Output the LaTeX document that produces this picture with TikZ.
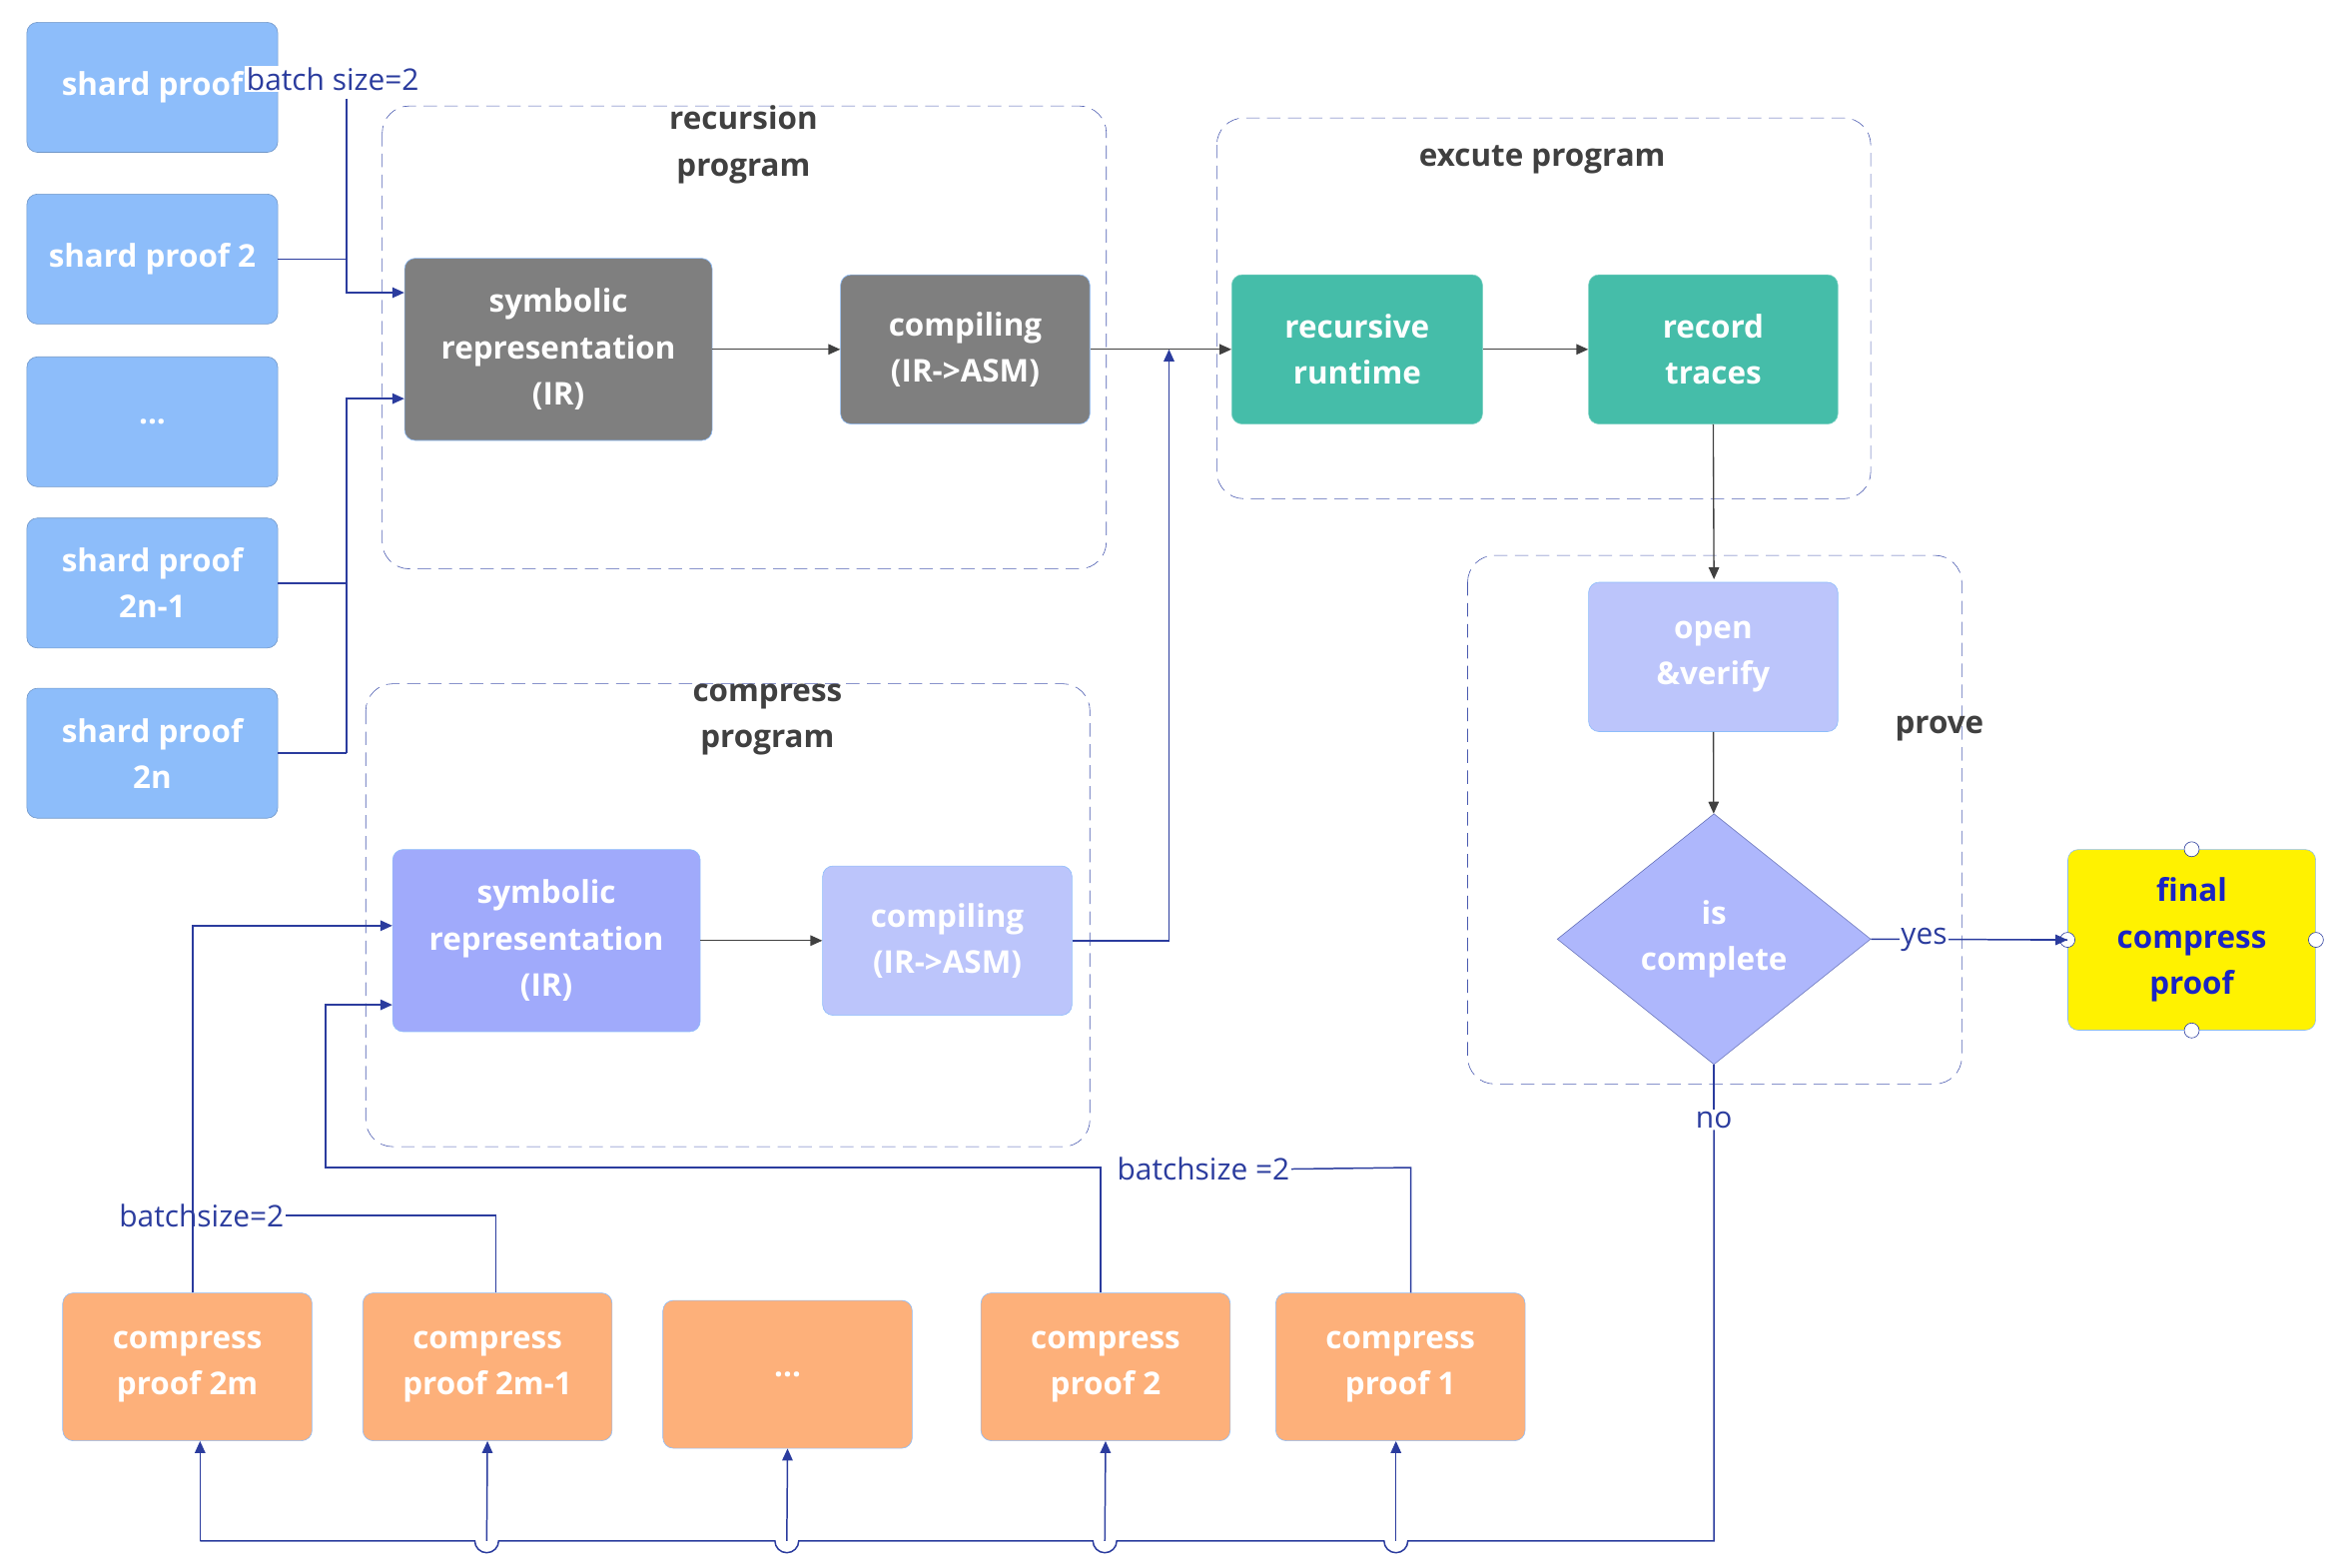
\documentclass[tikz,border=0pt]{standalone}
\usepackage{fontspec}
\setmainfont{Open Sans}
\usetikzlibrary{shapes.geometric,arrows.meta}
\definecolor{shardc}{HTML}{8DBDFA}
\definecolor{grayc}{HTML}{7F7F7F}
\definecolor{tealc}{HTML}{45BDA9}
\definecolor{lavc}{HTML}{BCC5FB}
\definecolor{purpc}{HTML}{A0AAFB}
\definecolor{orangec}{HTML}{FDB07A}
\definecolor{linec}{HTML}{2B3C9E}
\definecolor{dashc}{HTML}{4A5AB0}
\definecolor{textc}{HTML}{404040}
\tikzset{
  box/.style={rounded corners=7, draw=#1!80!black, fill=#1, text=white, align=center,
    font=\fontsize{21}{31}\selectfont\bfseries, inner sep=0pt},
  grp/.style={draw=dashc, dashed, dash pattern=on 9pt off 5pt, rounded corners=18},
  grplbl/.style={text=textc, align=center, font=\fontsize{21}{31}\selectfont\bfseries},
  lbl/.style={text=linec, font=\fontsize{20}{24}\selectfont, inner sep=1pt},
  flow/.style={draw=textc, line width=0.9pt, -{Triangle[length=8pt,width=7pt]}},
  lane/.style={draw=linec, line width=1pt, -{Triangle[length=8pt,width=7pt]}},
  plain/.style={draw=linec, line width=1pt},
}
\begin{document}
\begin{tikzpicture}[x=1pt,y=-1pt]
\useasboundingbox (0,0) rectangle (1568,1050);
% groups
\draw[grp] (256,71) rectangle (741,381);
\node[grplbl] at (498,97) {recursion\\program};
\draw[grp] (815,79) rectangle (1253,334);
\node[grplbl] at (1033,107) {excute program};
\draw[grp] (983,372) rectangle (1314,726);
\node[grplbl] at (1299,488) {prove};
\draw[grp] (245,458) rectangle (730,768);
\node[grplbl] at (514,482) {compress\\program};
% shard proofs
\node[box=shardc, minimum width=168, minimum height=87] (s1) at (102,58.5) {shard proof};
\node[box=shardc, minimum width=168, minimum height=87] (s2) at (102,173.5) {shard proof 2};
\node[box=shardc, minimum width=168, minimum height=87] (s3) at (102,282.5) {...};
\node[box=shardc, minimum width=168, minimum height=87] (s4) at (102,390.5) {shard proof\\2n-1};
\node[box=shardc, minimum width=168, minimum height=87] (s5) at (102,504.5) {shard proof\\2n};
% recursion program
\node[box=grayc, draw=shardc, minimum width=206, minimum height=122] (sym) at (374,234) {symbolic\\representation\\(IR)};
\node[box=grayc, draw=shardc, minimum width=167, minimum height=100] (comp) at (646.5,234) {compiling\\(IR->ASM)};
% excute program
\node[box=tealc, draw=tealc!70!white, minimum width=168, minimum height=100] (run) at (909,234) {recursive\\runtime};
\node[box=tealc, draw=tealc!70!white, minimum width=167, minimum height=100] (rec) at (1147.5,234) {record\\traces};
% prove
\node[box=lavc, draw=shardc, minimum width=167, minimum height=100] (open) at (1147.5,440) {open\\\&verify};
\node[diamond, draw=linec!70!white, fill=purpc!85!white, text=white, align=center,
  font=\fontsize{21}{31}\selectfont\bfseries, minimum width=210, minimum height=168,
  inner sep=0pt] (isc) at (1148,629) {is\\complete};
\node[box=yellow, draw=shardc, text=linec!60!blue, minimum width=166, minimum height=121] (fin) at (1468,629.5) {final\\compress\\proof};
\foreach \p in {fin.north, fin.south, fin.east, fin.west}
  \draw[linec, fill=white] (\p) circle (5);
% compress program
\node[box=purpc, draw=shardc, minimum width=206, minimum height=122] (sym2) at (366,630) {symbolic\\representation\\(IR)};
\node[box=lavc, draw=shardc, minimum width=167, minimum height=100] (comp2) at (634.5,630) {compiling\\(IR->ASM)};
% compress proofs
\node[box=orangec, draw=shardc, minimum width=167, minimum height=99] (c1) at (125.5,915.5) {compress\\proof 2m};
\node[box=orangec, draw=shardc, minimum width=167, minimum height=99] (c2) at (326.5,915.5) {compress\\proof 2m-1};
\node[box=orangec, draw=shardc, minimum width=167, minimum height=99] (c3) at (527.5,920.5) {...};
\node[box=orangec, draw=shardc, minimum width=167, minimum height=99] (c4) at (740.5,915.5) {compress\\proof 2};
\node[box=orangec, draw=shardc, minimum width=167, minimum height=99] (c5) at (938,915.5) {compress\\proof 1};
% shard inputs
\node[lbl, fill=white, anchor=west] (bs1) at (164,53) {batch size=2};
\draw[plain] (s2.east) -- (232,173.5);
\draw[lane] (232,66) -- (232,196) -- (sym.west |- 0,196);
\draw[plain] (s4.east) -- (232,390.5);
\draw[plain] (s5.east) -- (232,504.5);
\draw[lane] (232,504.5) -- (232,267) -- (sym.west |- 0,267);
% main flow
\draw[flow] (sym) -- (comp);
\draw[flow] (comp) -- (run);
\draw[flow] (sym2) -- (comp2);
\draw[lane] (comp2.east) -- (783,630) -- (783,234);
\draw[flow] (run) -- (rec);
\draw[flow] (rec.south) -- (1148,388);
\draw[flow] (open) -- (isc);
\draw[plain] (isc.east) -- node[lbl, fill=white, pos=0.27] {yes} (fin.west);
\draw[lane] (1360,629.5) -- (fin.west);
% compress inputs
\node[lbl] (bs2) at (135,814) {batchsize=2};
\draw[lane] (c1.north -| 129,0) -- (129,620) -- (sym2.west |- 0,620);
\draw[plain] (c2.north -| 332,0) -- (332,814) -- (bs2.east);
\node[lbl, fill=white] (bs3) at (806,783) {batchsize =2};
\draw[lane] (c4.north -| 737,0) -- (737,782) -- (218,782) -- (218,673) -- (sym2.west |- 0,673);
\draw[plain] (c5.north -| 945,0) -- (945,782) -- (bs3.east);
% feedback
\node[lbl] (no) at (1148,750) {no};
\draw[plain] (isc.south) -- (no.north);
\draw[plain] (no.south) -- (1148,1032) -- (943,1032) arc (0:180:8) -- (748,1032) arc (0:180:8)
  -- (535,1032) arc (0:180:8) -- (334,1032) arc (0:180:8) -- (134,1032);
\draw[lane] (134,1032) -- (c1.south -| 134,0);
\draw[lane] (326,1032) -- (c2.south);
\draw[lane] (527,1032) -- (c3.south);
\draw[lane] (740,1032) -- (c4.south);
\draw[lane] (935,1032) -- (c5.south -| 935,0);
\end{tikzpicture}
\end{document}
